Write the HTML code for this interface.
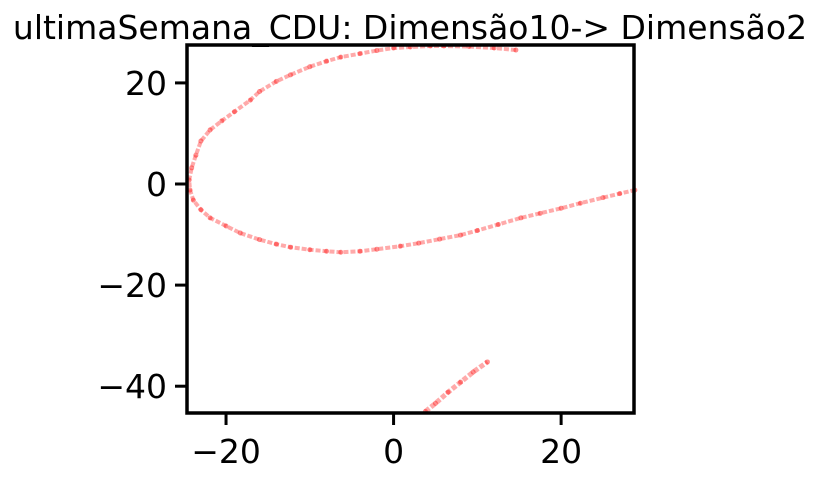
<!DOCTYPE html>
<html><head><meta charset="utf-8"><style>
body{margin:0;background:#fff;}
svg{font-family:"DejaVu Sans","Liberation Sans",sans-serif;}
</style></head><body>
<svg id="chart" width="822" height="475">
<text x="410" y="39" font-size="33" text-anchor="middle">ultimaSemana_CDU: Dimensão10-&gt; Dimensão2</text>
<g id="marks"></g>
<g id="axes"></g>
</svg>
<script>
const xTicks=[-20,0,20];
const yTicks=[20,0,-20,-40];
const curveX=[14.6,12,9,6,4.4,2,0,-2,-4,-6.3,-8,-10,-12.3,-14,-16,-17.1,-19,-20.5,-21.9,-23,-23.6,-24.1,-24.4,-24.3,-23.9,-23,-21.9,-20,-18.3,-16,-14,-12.3,-10,-8,-6.3,-4,-2,0.8,3,5.5,8,10,12.5,15.2,17.5,20,22.3,25,27,28.8];
const curveY=[26.5,26.9,27.2,27.3,27.3,27.1,26.9,26.4,25.8,25.1,24.3,23.2,21.6,20.3,18.3,16.6,14.3,12.5,10.7,8.5,5.7,3.2,0.8,-1.2,-3.2,-5.1,-6.7,-8.3,-9.7,-11,-11.9,-12.5,-13,-13.3,-13.5,-13.3,-12.9,-12.3,-11.7,-10.9,-10.1,-9.2,-8,-6.7,-5.8,-4.8,-3.8,-2.7,-1.9,-1.2];
const segX=[3.8,5,6.5,8,9.5,11.2];
const segY=[-45,-43.4,-41.2,-39.2,-37.2,-35.2];
const X0=-24.66,X1=28.7,Y0=-45.3,Y1=27.5;
const L=187,R=634,T=45,B=413;
const sx=v=>L+(v-X0)/(X1-X0)*(R-L);
const sy=v=>B-(v-Y0)/(Y1-Y0)*(B-T);
const NS='http://www.w3.org/2000/svg';
const marks=document.getElementById('marks');
const axes=document.getElementById('axes');
function drawSeries(xs,ys,name,w){
  const pl=document.createElementNS(NS,'polyline');
  pl.setAttribute('points',xs.map((x,i)=>sx(x)+','+sy(ys[i])).join(' '));
  pl.setAttribute('fill','none');pl.setAttribute('stroke','#ff2a2a');pl.setAttribute('stroke-opacity','0.4');pl.setAttribute('stroke-width',w);
  pl.setAttribute('stroke-dasharray','5 2');
  
  
  marks.appendChild(pl);
  xs.forEach((x,i)=>{
    const c=document.createElementNS(NS,'circle');
    c.setAttribute('cx',sx(x));c.setAttribute('cy',sy(ys[i]));c.setAttribute('r','2.5');
    c.setAttribute('fill','#ff2020');c.setAttribute('fill-opacity','0.5');
    
    
    marks.appendChild(c);
  });
}
drawSeries(curveX,curveY,'curve','4');
drawSeries(segX,segY,'segment','5');
const frame=document.createElementNS(NS,'rect');
frame.setAttribute('x',L);frame.setAttribute('y',T);frame.setAttribute('width',R-L);frame.setAttribute('height',B-T);
frame.setAttribute('fill','none');frame.setAttribute('stroke','#000');frame.setAttribute('stroke-width','3.5');


axes.appendChild(frame);
xTicks.forEach(t=>{
  const x=sx(t);
  const ln=document.createElementNS(NS,'line');
  ln.setAttribute('x1',x);ln.setAttribute('x2',x);ln.setAttribute('y1',B);ln.setAttribute('y2',B+12);
  ln.setAttribute('stroke','#000');ln.setAttribute('stroke-width','3');
  
  
  axes.appendChild(ln);
  const tx=document.createElementNS(NS,'text');
  tx.setAttribute('x',x);tx.setAttribute('y',B+50);tx.setAttribute('font-size','33');tx.setAttribute('text-anchor','middle');
  tx.textContent=(t<0?'\u2212'+(-t):t);
  
  
  axes.appendChild(tx);
});
yTicks.forEach(t=>{
  const y=sy(t);
  const ln=document.createElementNS(NS,'line');
  ln.setAttribute('x1',L-12);ln.setAttribute('x2',L);ln.setAttribute('y1',y);ln.setAttribute('y2',y);
  ln.setAttribute('stroke','#000');ln.setAttribute('stroke-width','3');
  
  
  axes.appendChild(ln);
  const tx=document.createElementNS(NS,'text');
  tx.setAttribute('x',L-20);tx.setAttribute('y',y+12);tx.setAttribute('font-size','33');tx.setAttribute('text-anchor','end');
  tx.textContent=(t<0?'\u2212'+(-t):t);
  
  
  axes.appendChild(tx);
});
</script>
</body></html>
